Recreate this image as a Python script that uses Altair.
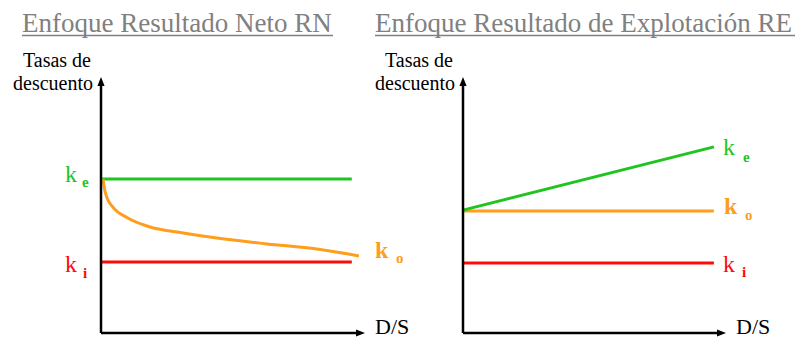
import altair as alt
import pandas as pd

# ---------------- data ----------------
# Left panel: Enfoque Resultado Neto (RN)
rn_ds = [0.0, 9.5]
rn_ke = [6.02, 6.02]
rn_ki = [2.77, 2.77]
rn_ko_ds = [0.08, 0.12, 0.22, 0.45, 0.98, 1.86, 3.11, 4.39, 6.29, 8.18, 9.77]
rn_ko = [6.02, 5.70, 5.30, 4.92, 4.51, 4.14, 3.91, 3.71, 3.48, 3.28, 3.01]

# Right panel: Enfoque Resultado de Explotación (RE)
re_ds = [0.0, 9.54]
re_ke = [4.80, 7.27]
re_ko = [4.77, 4.77]
re_ki = [2.73, 2.73]

axis_max = 10.0

titles = ["Enfoque Resultado Neto RN", "Enfoque Resultado de Explotación RE"]
ylabel = ["Tasas de", "descuento"]
xlabel = "D/S"

GREEN = "#1fc41f"
RED = "#ff0a0a"
ORANGE = "#ff9d1c"
GRAY = "#808080"
FONT = "Liberation Serif"

SX = alt.Scale(domain=[0, axis_max], nice=False, zero=False)
SY = alt.Scale(domain=[0, axis_max], nice=False, zero=False)
X = alt.X("x:Q", scale=SX, axis=None)
Y = alt.Y("y:Q", scale=SY, axis=None)


def line(xs, ys, color, interp="linear"):
    df = pd.DataFrame({"x": xs, "y": ys})
    return alt.Chart(df).mark_line(color=color, strokeWidth=3, interpolate=interp).encode(x=X, y=Y)


def label(x, y, text, dx, dy, color, size, bold=False, align="left"):
    df = pd.DataFrame({"x": [x], "y": [y], "t": [text]})
    return alt.Chart(df).mark_text(
        dx=dx, dy=dy, align=align, baseline="alphabetic", font=FONT,
        fontSize=size, fontWeight="bold" if bold else "normal", color=color
    ).encode(x=X, y=Y, text="t:N")


def axes():
    ends = pd.DataFrame({"x": [0.0, 0.0], "y": [0.0, 0.0],
                         "x2": [0.0, axis_max - 0.25], "y2": [axis_max - 0.25, 0.0]})
    rules = alt.Chart(ends).mark_rule(color="black", strokeWidth=2.5).encode(
        x=X, y=Y, x2="x2:Q", y2="y2:Q")
    up = alt.Chart(pd.DataFrame({"x": [0.0], "y": [axis_max]})).mark_point(
        shape="M0,0L0.8,2L-0.8,2Z", size=81, filled=True,
        opacity=1, color="black", strokeWidth=0).encode(x=X, y=Y)
    right = alt.Chart(pd.DataFrame({"x": [axis_max], "y": [0.0]})).mark_point(
        shape="M0,0L-2,-0.8L-2,0.8Z", size=81, filled=True,
        opacity=1, color="black", strokeWidth=0).encode(x=X, y=Y)
    return [rules, up, right]


def frame(x0, x1, uline0, uline1, title, tdx):
    one = pd.DataFrame({"x": [0.0], "y": [axis_max]})
    bounds = alt.Chart(one).mark_rect(opacity=0).encode(
        x=alt.value(x0), x2=alt.value(x1), y=alt.value(-77), y2=alt.value(261))
    ttl = label(0, axis_max, title, tdx, -45, GRAY, 27)
    ul = alt.Chart(one).mark_rule(color=GRAY, strokeWidth=1.5).encode(
        x=alt.value(uline0), x2=alt.value(uline1), y=alt.value(-41.5))
    t1 = label(0, axis_max, ylabel[0], -10, -10, "black", 20, align="right")
    t2 = label(0, axis_max, ylabel[1], -8, 13, "black", 20, align="right")
    ds = label(axis_max, 0, xlabel, 10, 1, "black", 22)
    return [bounds, ttl, ul, t1, t2, ds]


left = alt.layer(
    *frame(-101, 299, -79, 232, titles[0], -79),
    line(rn_ds, rn_ke, GREEN),
    line(rn_ds, rn_ki, RED),
    line(rn_ko_ds, rn_ko, ORANGE, "monotone"),
    *axes(),
    label(rn_ds[0], rn_ke[0], "k", -36, 3, GREEN, 24),
    label(rn_ds[0], rn_ke[0], "e", -19, 8, GREEN, 15, bold=True),
    label(rn_ds[0], rn_ki[0], "k", -36, 10, RED, 24),
    label(rn_ds[0], rn_ki[0], "i", -18, 16, RED, 15, bold=True),
    label(rn_ko_ds[-1], rn_ko[-1], "k", 16, 2, ORANGE, 24, bold=True),
    label(rn_ko_ds[-1], rn_ko[-1], "o", 37, 7, ORANGE, 15, bold=True),
).properties(width=264, height=256)

right = alt.layer(
    *frame(-63, 335, -88, 332, titles[1], -88),
    line(re_ds, re_ki, RED),
    line(re_ds, re_ko, ORANGE),
    line(re_ds, re_ke, GREEN),
    *axes(),
    label(re_ds[-1], re_ke[-1], "k", 9, 8, GREEN, 24),
    label(re_ds[-1], re_ke[-1], "e", 29, 15, GREEN, 15, bold=True),
    label(re_ds[-1], re_ko[-1], "k", 10, 3, ORANGE, 24, bold=True),
    label(re_ds[-1], re_ko[-1], "o", 31, 9, ORANGE, 15, bold=True),
    label(re_ds[-1], re_ki[-1], "k", 9, 9, RED, 24),
    label(re_ds[-1], re_ki[-1], "i", 28, 14, RED, 15, bold=True),
).properties(width=263, height=256)

chart = alt.hconcat(left, right, spacing=98, bounds="flush").properties(
    padding=0, background="white"
).configure_view(stroke=None)

chart.save("out.html", embed_options={"renderer": "svg", "actions": False})
